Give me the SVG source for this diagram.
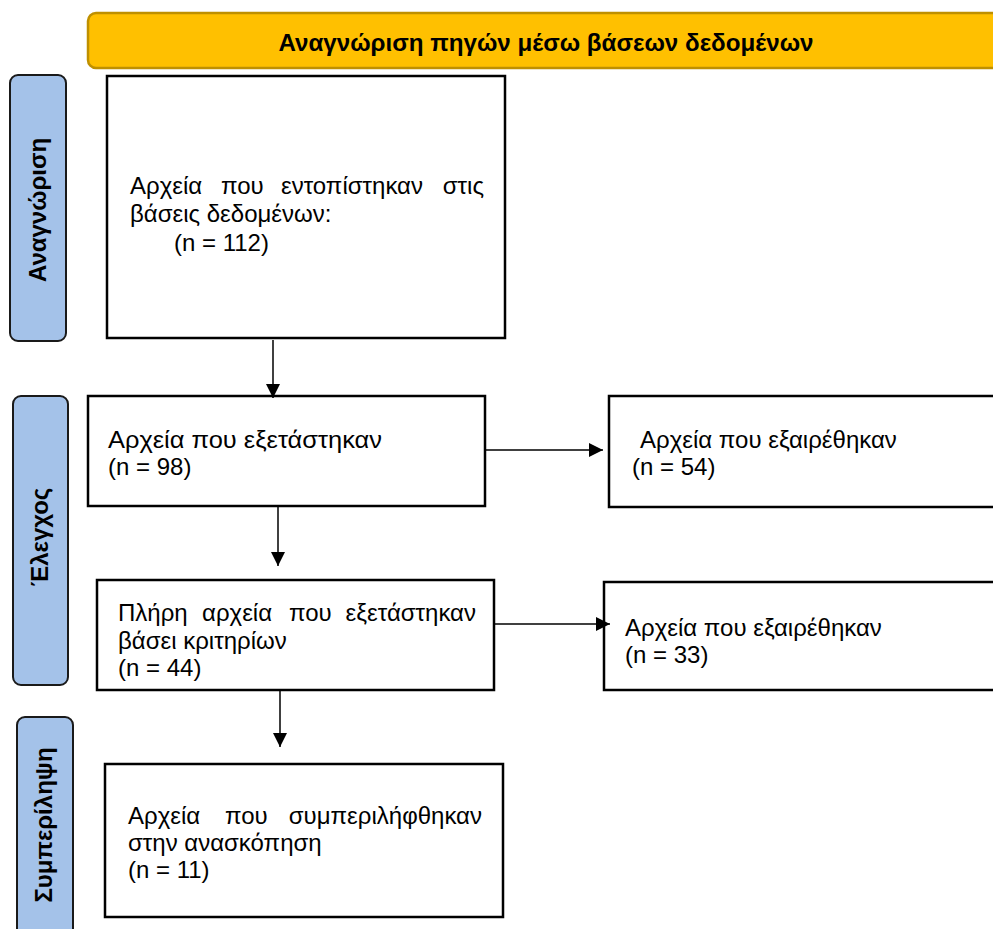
<svg xmlns="http://www.w3.org/2000/svg" width="993" height="929" viewBox="0 0 993 929">
<style>
.box{fill:#fff;stroke:#000;stroke-width:2.5}
.bar{fill:#a4c2e9;stroke:#1a1a1a;stroke-width:2}
.t{font-family:"Liberation Sans",Arial,sans-serif;font-size:24px;fill:#000}
.e{text-anchor:end}
.bt{font-family:"Liberation Sans",Arial,sans-serif;font-size:24px;font-weight:bold;fill:#000}
.ht{font-family:"Liberation Sans",Arial,sans-serif;font-size:23px;font-weight:bold;fill:#000}
.c{stroke:#000;stroke-width:1.5;fill:none}
</style>
<defs>
<marker id="ah" markerWidth="14" markerHeight="14" refX="14" refY="7" orient="auto" markerUnits="userSpaceOnUse" viewBox="0 0 14 14">
<path d="M0,0 L14,7 L0,14 Z" fill="#000"/>
</marker>
</defs>
<rect width="993" height="929" fill="#fff"/>
<g id="header">
<rect x="88" y="13" width="930" height="55" rx="8" fill="#ffc000" stroke="#bf9000" stroke-width="2.5"/>
<text class="ht" x="546" y="51" text-anchor="middle" textLength="535" lengthAdjust="spacingAndGlyphs">Αναγνώριση πηγών μέσω βάσεων δεδομένων</text>
</g>
<g id="stage1">
<rect class="bar" x="10" y="75" width="56" height="266" rx="8"/>
<text class="bt" transform="translate(46,210) rotate(-90)" text-anchor="middle">Αναγνώριση</text>
</g>
<g id="stage2">
<rect class="bar" x="13" y="396" width="55" height="289" rx="8"/>
<text class="bt" transform="translate(48,537) rotate(-90)" text-anchor="middle">Έλεγχος</text>
</g>
<g id="stage3">
<rect class="bar" x="17" y="717" width="56" height="230" rx="8"/>
<text class="bt" transform="translate(52,825) rotate(-90)" text-anchor="middle">Συμπερίληψη</text>
</g>
<g id="n1">
<rect class="box" x="107" y="76" width="398" height="262"/>
<text class="t" y="194"><tspan x="130">Αρχεία</tspan> <tspan x="221">που</tspan> <tspan x="281">εντοπίστηκαν</tspan></text>
<text class="t e" x="484" y="194">στις</text>
<text class="t" x="130" y="222">βάσεις δεδομένων:</text>
<text class="t" x="174" y="251">(n = 112)</text>
</g>
<g id="n2">
<rect class="box" x="88" y="396" width="397" height="110"/>
<text class="t" x="108" y="448" textLength="274" lengthAdjust="spacingAndGlyphs">Αρχεία που εξετάστηκαν</text>
<text class="t" x="108" y="475">(n = 98)</text>
</g>
<g id="n3">
<rect class="box" x="609" y="396" width="400" height="111"/>
<text class="t" x="640" y="448">Αρχεία που εξαιρέθηκαν</text>
<text class="t" x="632" y="475">(n = 54)</text>
</g>
<g id="n4">
<rect class="box" x="97" y="580" width="397" height="110"/>
<text class="t" y="621"><tspan x="118">Πλήρη</tspan> <tspan x="202">αρχεία</tspan> <tspan x="289">που</tspan></text>
<text class="t e" x="476" y="621">εξετάστηκαν</text>
<text class="t" x="118" y="649">βάσει κριτηρίων</text>
<text class="t" x="118" y="676">(n = 44)</text>
</g>
<g id="n5">
<rect class="box" x="604" y="582" width="400" height="108"/>
<text class="t" x="625" y="636">Αρχεία που εξαιρέθηκαν</text>
<text class="t" x="625" y="663">(n = 33)</text>
</g>
<g id="n6">
<rect class="box" x="105" y="764" width="398" height="153"/>
<text class="t" y="824"><tspan x="128">Αρχεία</tspan> <tspan x="225">που</tspan></text>
<text class="t e" x="482" y="824">συμπεριλήφθηκαν</text>
<text class="t" x="128" y="851">στην ανασκόπηση</text>
<text class="t" x="128" y="878">(n = 11)</text>
</g>
<g id="connectors">
<line class="c" x1="273" y1="340" x2="273" y2="398" marker-end="url(#ah)"/>
<line class="c" x1="485" y1="450" x2="603" y2="450" marker-end="url(#ah)"/>
<line class="c" x1="278" y1="507" x2="278" y2="566" marker-end="url(#ah)"/>
<line class="c" x1="494" y1="624" x2="610" y2="624" marker-end="url(#ah)"/>
<line class="c" x1="280" y1="690" x2="280" y2="747" marker-end="url(#ah)"/>
</g>
</svg>
